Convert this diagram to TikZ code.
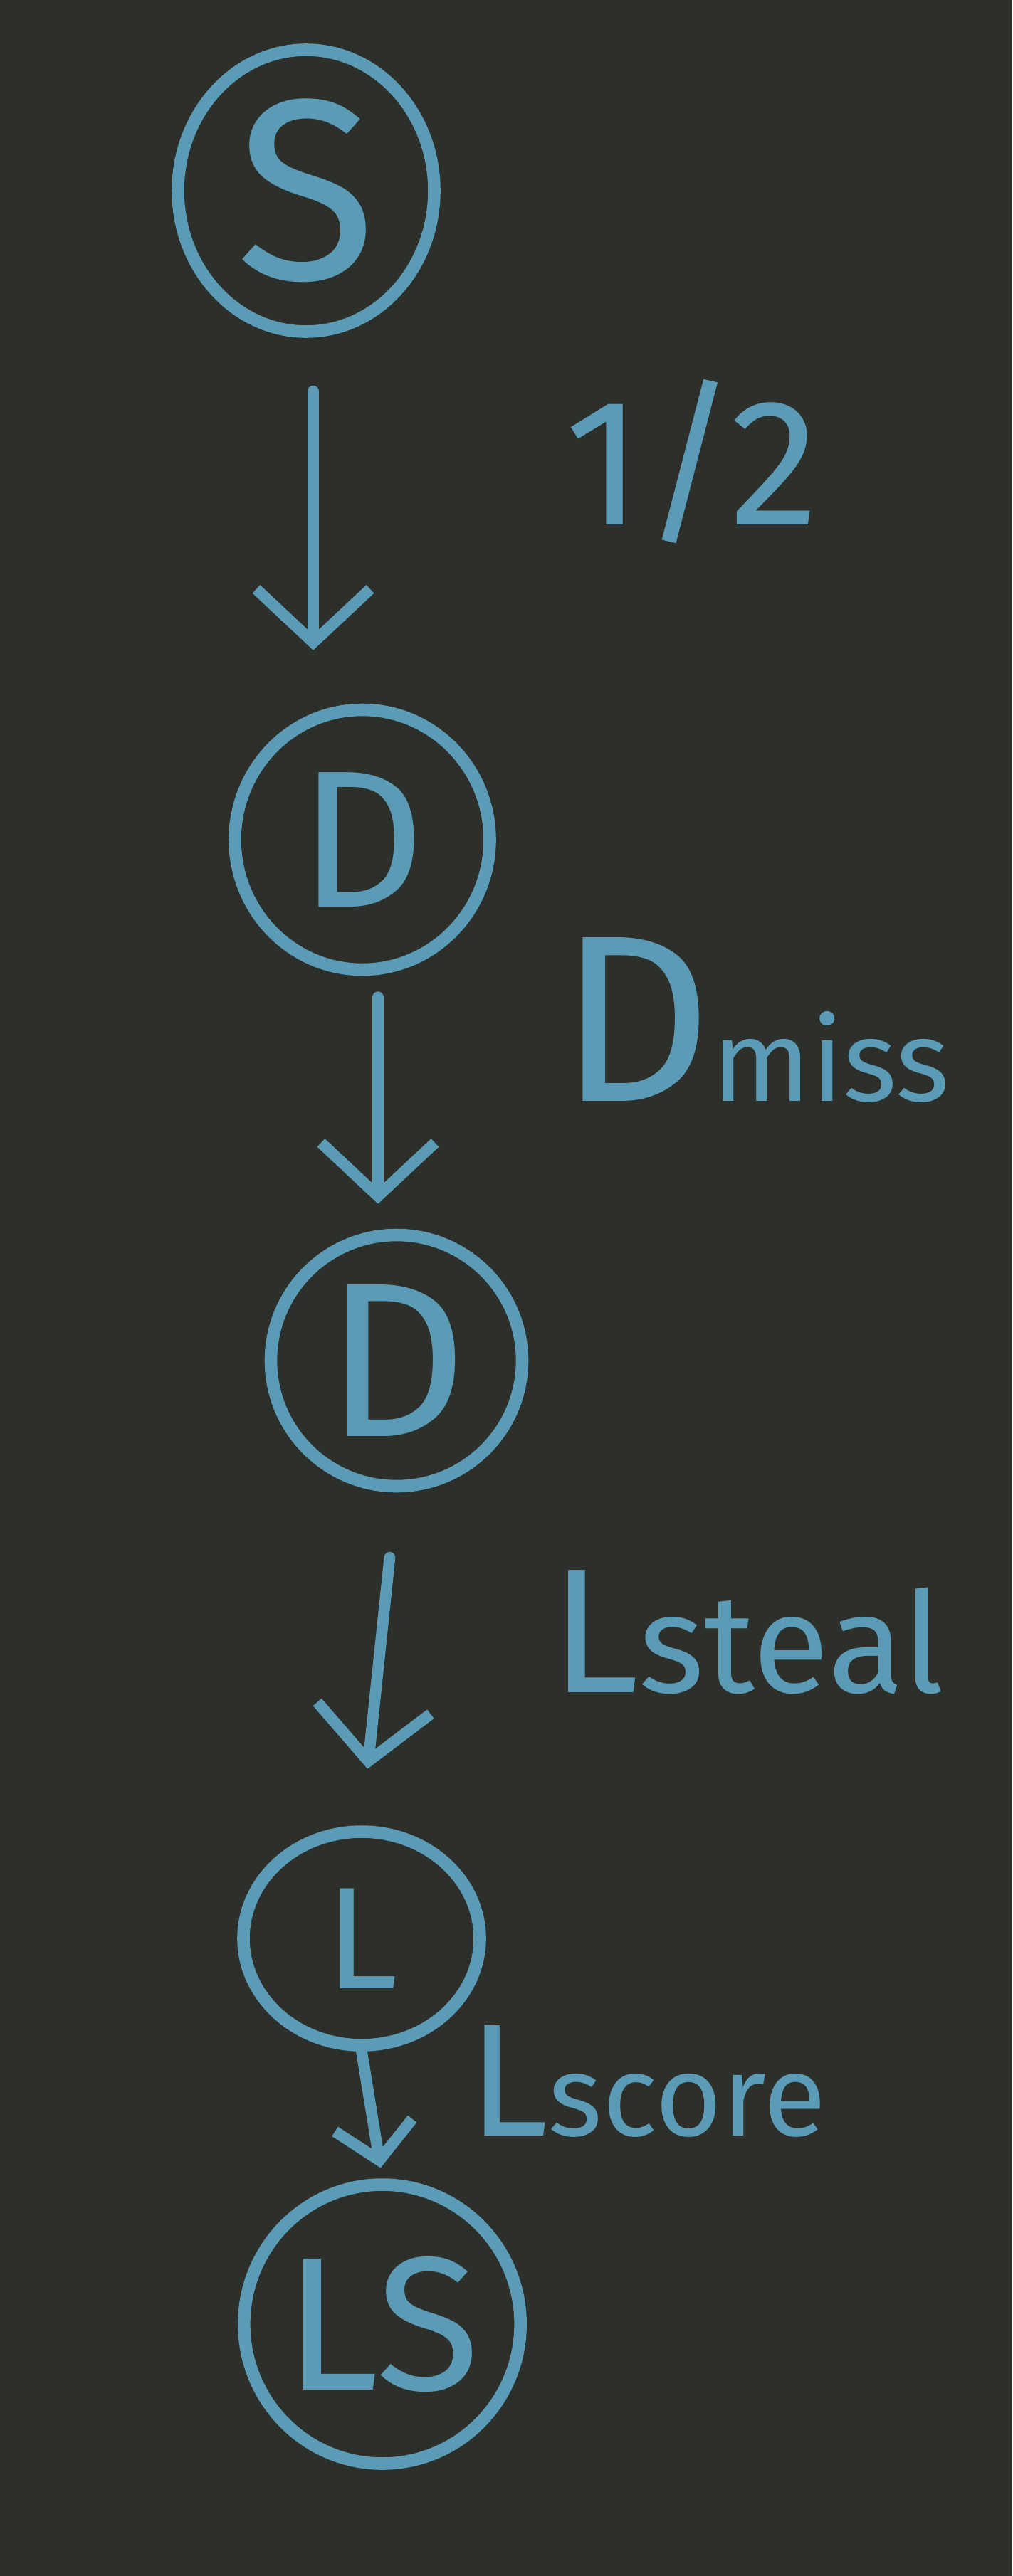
\documentclass[tikz,border=0pt]{standalone}
\usepackage{fontspec}
\setmainfont{Fira Sans}
\usetikzlibrary{shapes.geometric,arrows.meta,positioning,calc}

\definecolor{board}{HTML}{2C2F2A}
\definecolor{chalk}{HTML}{5B9BB5}
\newcommand{\chalkfont}[1]{\fontsize{#1}{#1}\selectfont}

\tikzset{
    state/.style={ellipse, draw=chalk, line width=5pt, text=chalk, inner sep=0pt},
    chalkarrow/.style={draw=chalk, line width=4.5pt, line cap=round,
        -{Straight Barb[length=0.75cm, width=1.6cm, line width=4.5pt]}},
    chalktext/.style={text=chalk, inner sep=0pt, anchor=base west}
}

\begin{document}
\begin{tikzpicture}
    % Board
    \fill[board] (0,0) rectangle (14.22,-36.20);
    \useasboundingbox (0,0) rectangle (14.22,-36.20);

    % States
    \node[state, minimum width=3.6cm, minimum height=3.96cm, font=\chalkfont{103}] (S) at (4.30,-2.68) {S};
    \node[state, minimum width=3.58cm, minimum height=3.65cm, font=\chalkfont{78}] (D1) at (5.09,-11.80) {D};
    \node[state, minimum width=3.53cm, minimum height=3.53cm, font=\chalkfont{88}] (D2) at (5.57,-19.12) {D};
    \node[state, minimum width=3.32cm, minimum height=3.0cm, font=\chalkfont{58}] (L) at (5.08,-27.24) {L};
    \node[state, minimum width=3.8cm, minimum height=3.92cm, font=\chalkfont{76}] (LS) at (5.37,-32.66) {LS};

    % Transitions
    \draw[chalkarrow, shorten <=0.75cm, shorten >=0.75cm] ([xshift=0.1cm]S.south) -- ([xshift=0.1cm]S.south |- D1.north);
    \draw[chalkarrow, shorten <=0.3cm, shorten >=0.35cm] ([xshift=0.22cm]D1.south) -- ([xshift=0.22cm]D1.south |- D2.north);
    \draw[chalkarrow, shorten <=0.92cm, shorten >=0.8cm] (D2.south) -- (L.north);
    \draw[chalkarrow, -{Straight Barb[length=0.5cm, width=1.1cm, line width=4.5pt]}, shorten >=0.15cm] (L.south) -- (LS.north);

    % Probabilities
    \node[chalktext, font=\chalkfont{72}] (p1) at (7.93,-7.37) {1/2};
    \node[chalktext] (p2) at (7.85,-15.47) {{\chalkfont{95}D}{\chalkfont{46}miss}};
    \node[chalktext] (p3) at (7.73,-23.78) {{\chalkfont{71}L}{\chalkfont{56}steal}};
    \node[chalktext] (p4) at (6.58,-30.01) {{\chalkfont{64}L}{\chalkfont{46}score}};
\end{tikzpicture}
\end{document}
